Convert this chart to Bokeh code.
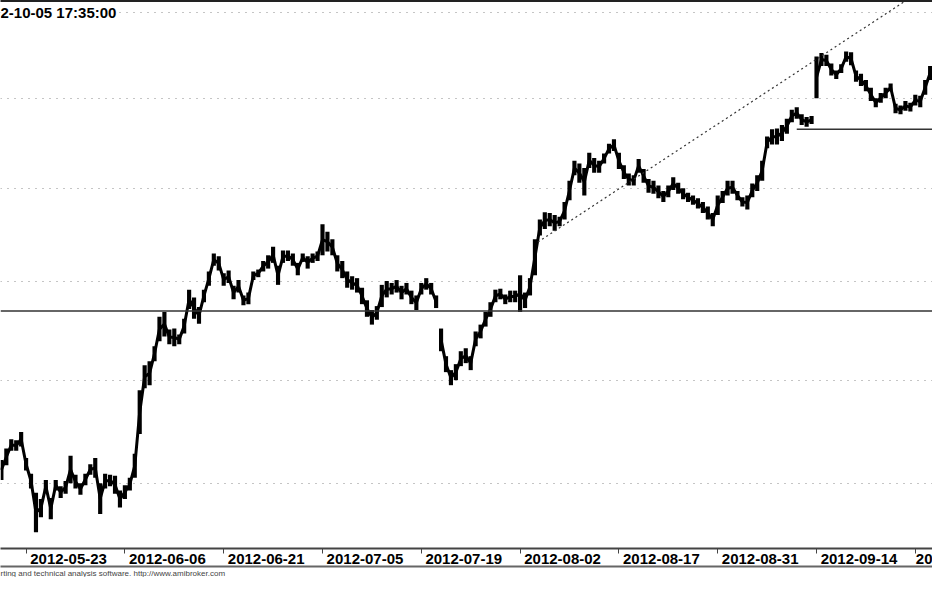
import numpy as np
from bokeh.plotting import figure
from bokeh.models import (Range1d, FixedTicker, LinearAxis, Grid, Span, Label,
                          Title, ColumnDataSource)
from bokeh.embed import file_html
from bokeh.resources import INLINE

# ---- data -----------------------------------------------------------------
# x = trading-day index (0 = 2012-05-23), two readings per session
first_day = -2.5
step = 0.5

bar_high = [
    2022, 2033, 2042, 2041, 2049, 2024, 2009, 1991, 1985, 2003,
    1986, 2003, 1997, 2002, 2026, 2008, 2000, 2009, 2018, 2024,
    2000, 2009, 2008, 2007, 1993, 1998, 2005, 2028, 2090, 2115,
    2119, 2134, 2164, 2169, 2151, 2152, 2146, 2162, 2192, 2184,
    2174, 2192, 2211, 2230, 2227, 2209, 2212, 2196, 2202, 2186,
    2189, 2211, 2213, 2222, 2228, 2237, 2217, 2233, 2233, 2230,
    2220, 2230, 2227, 2230, 2232, 2261, 2253, 2245, 2228, 2222,
    2211, 2206, 2204, 2194, 2181, 2171, 2175, 2197, 2201, 2199,
    2202, 2196, 2199, 2191, 2186, 2199, 2204, 2199, 2186, 2152,
    2124, 2110, 2116, 2129, 2132, 2124, 2149, 2156, 2169, 2179,
    2192, 2193, 2187, 2191, 2191, 2207, 2189, 2204, 2245, 2266,
    2274, 2273, 2271, 2269, 2285, 2308, 2330, 2327, 2322, 2339,
    2333, 2330, 2338, 2349, 2354, 2339, 2325, 2316, 2314, 2332,
    2321, 2310, 2308, 2303, 2297, 2303, 2312, 2306, 2300, 2295,
    2292, 2289, 2285, 2280, 2273, 2292, 2297, 2308, 2308, 2297,
    2290, 2292, 2305, 2314, 2330, 2357, 2365, 2366, 2370, 2377,
    2387, 2390, 2382, 2379, 2380, 2448, 2452, 2450, 2440, 2432,
    2439, 2454, 2453, 2432, 2428, 2421, 2412, 2400, 2406, 2412,
    2417, 2394, 2392, 2397, 2395, 2404, 2403, 2421, 2437,
]
bar_low = [
    2003, 2017, 2031, 2031, 2035, 2012, 1995, 1954, 1968, 1991,
    1966, 1993, 1986, 1990, 2000, 1995, 1989, 1998, 2008, 2005,
    1971, 1995, 1997, 1990, 1977, 1985, 1993, 2005, 2047, 2092,
    2095, 2119, 2139, 2144, 2136, 2134, 2136, 2147, 2172, 2162,
    2157, 2179, 2196, 2217, 2212, 2196, 2199, 2182, 2189, 2176,
    2177, 2202, 2205, 2211, 2214, 2220, 2197, 2220, 2222, 2217,
    2207, 2221, 2214, 2220, 2222, 2228, 2232, 2228, 2211, 2204,
    2194, 2192, 2189, 2177, 2164, 2156, 2161, 2174, 2184, 2187,
    2189, 2182, 2187, 2177, 2171, 2187, 2192, 2187, 2173, 2129,
    2108, 2095, 2100, 2114, 2117, 2110, 2134, 2142, 2154, 2164,
    2179, 2182, 2177, 2179, 2179, 2169, 2173, 2186, 2207, 2249,
    2256, 2259, 2254, 2259, 2266, 2287, 2314, 2306, 2292, 2322,
    2317, 2317, 2327, 2338, 2341, 2321, 2310, 2303, 2303, 2317,
    2306, 2295, 2294, 2289, 2285, 2290, 2298, 2294, 2288, 2285,
    2282, 2278, 2273, 2266, 2259, 2271, 2284, 2292, 2294, 2287,
    2280, 2277, 2290, 2297, 2308, 2344, 2348, 2348, 2352, 2360,
    2373, 2377, 2370, 2368, 2371, 2400, 2437, 2437, 2426, 2422,
    2429, 2442, 2438, 2419, 2414, 2408, 2397, 2390, 2395, 2400,
    2408, 2383, 2382, 2386, 2385, 2392, 2390, 2404, 2421,
]
# price gaps (no trading between these readings)
gap_after = [88, 164]

tick_days = [0, 10, 20, 30, 40, 50, 60, 70, 80, 90]
tick_labels = ["2012-05-23", "2012-06-06", "2012-06-21", "2012-07-05",
               "2012-07-19", "2012-08-02", "2012-08-17", "2012-08-31",
               "2012-09-14", "20"]

grid_levels = [2000, 2100, 2200, 2300, 2400, 2500]
support_level = 2170
resistance_level = 2365
resistance_start_day = 78.0
trend_days = [51.8, 69.05]
trend_prices = [2242, 2364]
last_day = 95.0

header_text = "2-10-05 17:35:00"
footer_text = "rting and technical analysis software. http://www.amibroker.com"

# ---- figure -----------------------------------------------------------------
X0, X1 = -2.59, 91.74
Y0, Y1 = 1939.0, 2513.9

p = figure(width=932, height=577, output_backend="svg", toolbar_location=None,
           x_range=Range1d(X0, X1), y_range=Range1d(Y0, Y1),
           y_axis_type="log", x_axis_location=None, y_axis_location=None,
           min_border_left=0, min_border_right=0, min_border_top=0,
           min_border_bottom=0, outline_line_color=None,
           background_fill_color="white", border_fill_color="white")
for g in p.grid:
    g.visible = False

p.add_layout(Grid(dimension=1, ticker=FixedTicker(ticks=grid_levels),
                  grid_line_color="#8a8a8a", grid_line_dash="1 6",
                  grid_line_width=1), "center")

# price bars
n = len(bar_high)
bar_day = first_day + step * np.arange(n)
hi = np.array(bar_high, dtype=float)
lo = np.array(bar_low, dtype=float)
src = ColumnDataSource(dict(day=bar_day, high=hi, low=lo))
p.vbar(x="day", width=0.42, top="high", bottom="low", source=src,
       fill_color="black", line_color=None)

# connecting trace through bar midpoints, broken at the gaps
mid = np.sqrt(hi * lo)
xs, ys = [], []
start = 0
for g in gap_after + [n - 1]:
    xs.append(list(bar_day[start:g + 1]))
    ys.append(list(mid[start:g + 1]))
    start = g + 1
p.multi_line(xs=xs, ys=ys, line_color="black", line_width=3,
             line_join="round")

# horizontal support / resistance
p.add_layout(Span(location=support_level, dimension="width",
                  line_color="#333333", line_width=1.5))
p.segment(x0=[resistance_start_day], y0=[resistance_level],
          x1=[last_day], y1=[resistance_level],
          line_color="#333333", line_width=1.5)

# dotted trend line (straight on the log scale)
rate = np.log(trend_prices[1] / trend_prices[0]) / (trend_days[1] - trend_days[0])
trend_end = trend_prices[0] * np.exp(rate * (last_day - trend_days[0]))
p.line(x=[trend_days[0], last_day], y=[trend_prices[0], trend_end],
       line_color="#333333", line_dash="2 3", line_width=1.2)

# header text
p.add_layout(Label(x=X0, y=grid_levels[-1], text=header_text,
                   text_font="Liberation Sans", text_font_style="bold",
                   text_font_size="15px", text_color="black",
                   text_align="left", text_baseline="middle",
                   background_fill_color="white"))

# top border
top_ax = LinearAxis(ticker=FixedTicker(ticks=[]), axis_line_color="#222222",
                    axis_line_width=3, major_tick_out=0, major_tick_in=0,
                    minor_tick_out=0, minor_tick_in=0, major_label_standoff=0,
                    major_label_text_font_size="0px")
p.add_layout(top_ax, "above")

# date axis: labels start just right of each tick
label_center = [d + 0.4 + 0.39 * len(t) for d, t in zip(tick_days, tick_labels)]
xax = LinearAxis(ticker=FixedTicker(ticks=label_center, minor_ticks=tick_days),
                 major_label_overrides=dict(zip(label_center, tick_labels)),
                 axis_line_color="#444444", axis_line_width=2,
                 major_tick_line_color=None, major_tick_out=0, major_tick_in=0,
                 minor_tick_line_color="#444444", minor_tick_out=5, minor_tick_in=0,
                 major_label_text_font="Liberation Sans",
                 major_label_text_font_style="bold",
                 major_label_text_font_size="15px",
                 major_label_text_color="black", major_label_standoff=0)
p.add_layout(xax, "below")

bot_ax = LinearAxis(ticker=FixedTicker(ticks=[]), axis_line_color="#666666",
                    axis_line_width=2, major_tick_out=0, major_tick_in=0,
                    minor_tick_out=0, minor_tick_in=0, major_label_standoff=0,
                    major_label_text_font_size="0px")
p.add_layout(bot_ax, "below")

# footer credit line under the date band
p.add_layout(Title(text=footer_text, align="left", text_font="Liberation Sans",
                   text_font_size="8px", text_font_style="normal",
                   text_color="#444444", standoff=0, offset=0,
                   text_line_height=1.0), "below")

open("out.html", "w").write(file_html(p, INLINE))
